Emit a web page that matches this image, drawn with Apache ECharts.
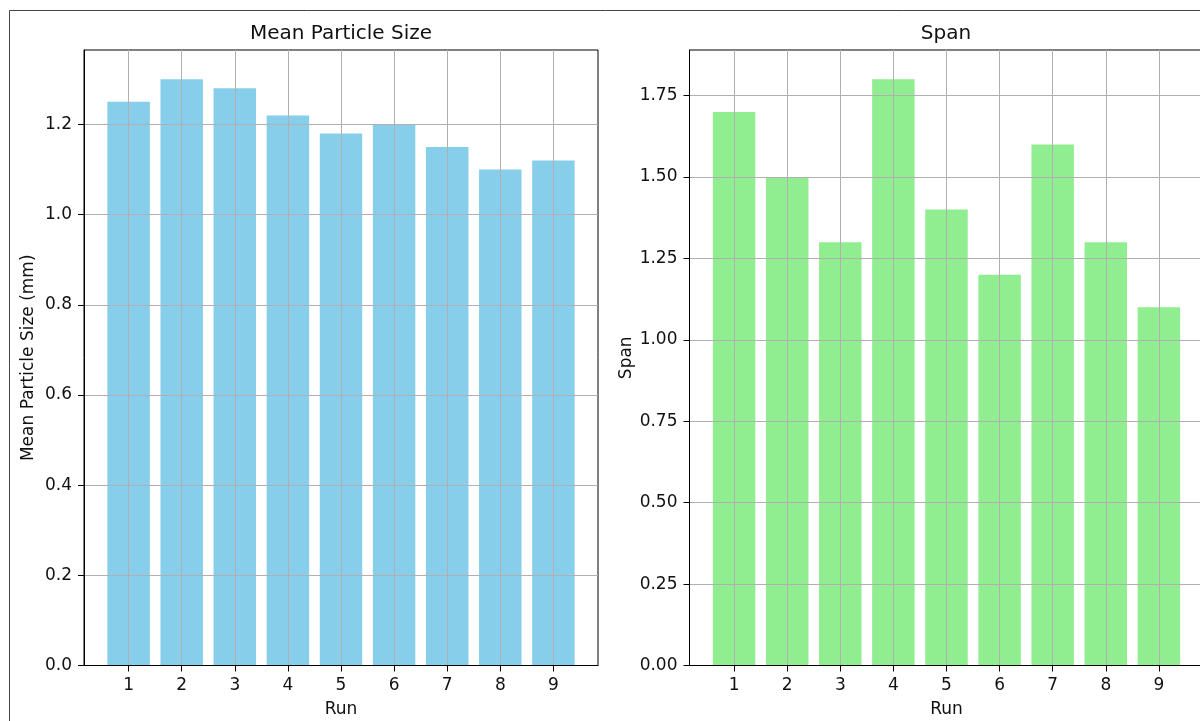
<!DOCTYPE html>
<html>
<head>
<meta charset="utf-8">
<script src="https://cdn.jsdelivr.net/npm/echarts@6/dist/echarts.min.js"></script>
<style>
html,body{margin:0;padding:0;background:#fff;}
#c{width:1200px;height:721px;}
</style>
</head>
<body>
<div id="c"></div>
<script>
const runs = [1, 2, 3, 4, 5, 6, 7, 8, 9];
const meanSize = [1.25, 1.30, 1.28, 1.22, 1.18, 1.20, 1.15, 1.10, 1.12];
const spanVals = [1.70, 1.50, 1.30, 1.80, 1.40, 1.20, 1.60, 1.30, 1.10];
const meanTicks = [0, 0.2, 0.4, 0.6, 0.8, 1.0, 1.2];
const spanTicks = [0, 0.25, 0.5, 0.75, 1.0, 1.25, 1.5, 1.75];
const titles = ['Mean Particle Size', 'Span'];
const yNames = ['Mean Particle Size (mm)', 'Span'];
const xName = 'Run';

const FONT = 'DejaVu Sans';
const TXT = '#111';
const GRIDC = '#b0b0b0';

function xAxisCfg(idx) {
  return {
    type: 'value', gridIndex: idx, min: 0.16, max: 9.84, z: 3,
    name: xName, nameLocation: 'middle', nameGap: 36,
    nameTextStyle: {fontFamily: FONT, fontSize: 17, color: TXT},
    axisLine: {show: true, lineStyle: {color: '#000', width: 1}},
    axisTick: {show: true, length: 6, inside: false, customValues: runs, lineStyle: {color: '#000', width: 1}},
    axisLabel: {show: true, margin: 12, customValues: runs, fontFamily: FONT, fontSize: 17, color: TXT, formatter: v => String(v)},
    splitLine: {show: true, lineStyle: {color: GRIDC, width: 1}}
  };
}
function yAxisCfg(idx, max, ticks, dec, gap) {
  return {
    type: 'value', gridIndex: idx, min: 0, max: max, z: 3,
    name: yNames[idx], nameLocation: 'middle', nameGap: gap, nameRotate: 90,
    nameTextStyle: {fontFamily: FONT, fontSize: 17, color: TXT},
    axisLine: {show: true, lineStyle: {color: '#000', width: 1}},
    axisTick: {show: true, length: 6, inside: false, customValues: ticks, lineStyle: {color: '#000', width: 1}},
    axisLabel: {show: true, margin: 12, customValues: ticks, fontFamily: FONT, fontSize: 17, color: TXT, formatter: v => v.toFixed(dec)},
    splitLine: {show: true, lineStyle: {color: GRIDC, width: 1}}
  };
}

const chart = echarts.init(document.getElementById('c'), null, {renderer: 'canvas'});
chart.setOption({
  animation: false,
  backgroundColor: '#fff',
  title: [
    {text: titles[0], left: 341, top: 24, padding: 0, textAlign: 'center', textStyle: {fontFamily: FONT, fontSize: 20, fontWeight: 'normal', color: TXT}},
    {text: titles[1], left: 946, top: 24, padding: 0, textAlign: 'center', textStyle: {fontFamily: FONT, fontSize: 20, fontWeight: 'normal', color: TXT}}
  ],
  graphic: [{
    type: 'rect', z: 100, silent: true,
    shape: {x: 9.5, y: 10.5, width: 1300, height: 800},
    style: {fill: 'none', stroke: '#444', lineWidth: 1}
  }],
  grid: [
    {left: 84, top: 50, width: 514, height: 615.5, show: true, borderColor: '#000', borderWidth: 1, backgroundColor: 'transparent', containLabel: false, outerBoundsMode: 'none'},
    {left: 689.5, top: 50, width: 514, height: 615.5, show: true, borderColor: '#000', borderWidth: 1, backgroundColor: 'transparent', containLabel: false, outerBoundsMode: 'none'}
  ],
  xAxis: [xAxisCfg(0), xAxisCfg(1)],
  yAxis: [yAxisCfg(0, 1.365, meanTicks, 1, 47), yAxisCfg(1, 1.89, spanTicks, 2, 54)],
  series: [
    {type: 'bar', xAxisIndex: 0, yAxisIndex: 0, barWidth: '80%', itemStyle: {color: '#87CEEB'},
     data: runs.map((r, i) => [r, meanSize[i]])},
    {type: 'bar', xAxisIndex: 1, yAxisIndex: 1, barWidth: '80%', itemStyle: {color: '#90EE90'},
     data: runs.map((r, i) => [r, spanVals[i]])}
  ]
});
</script>
</body>
</html>
